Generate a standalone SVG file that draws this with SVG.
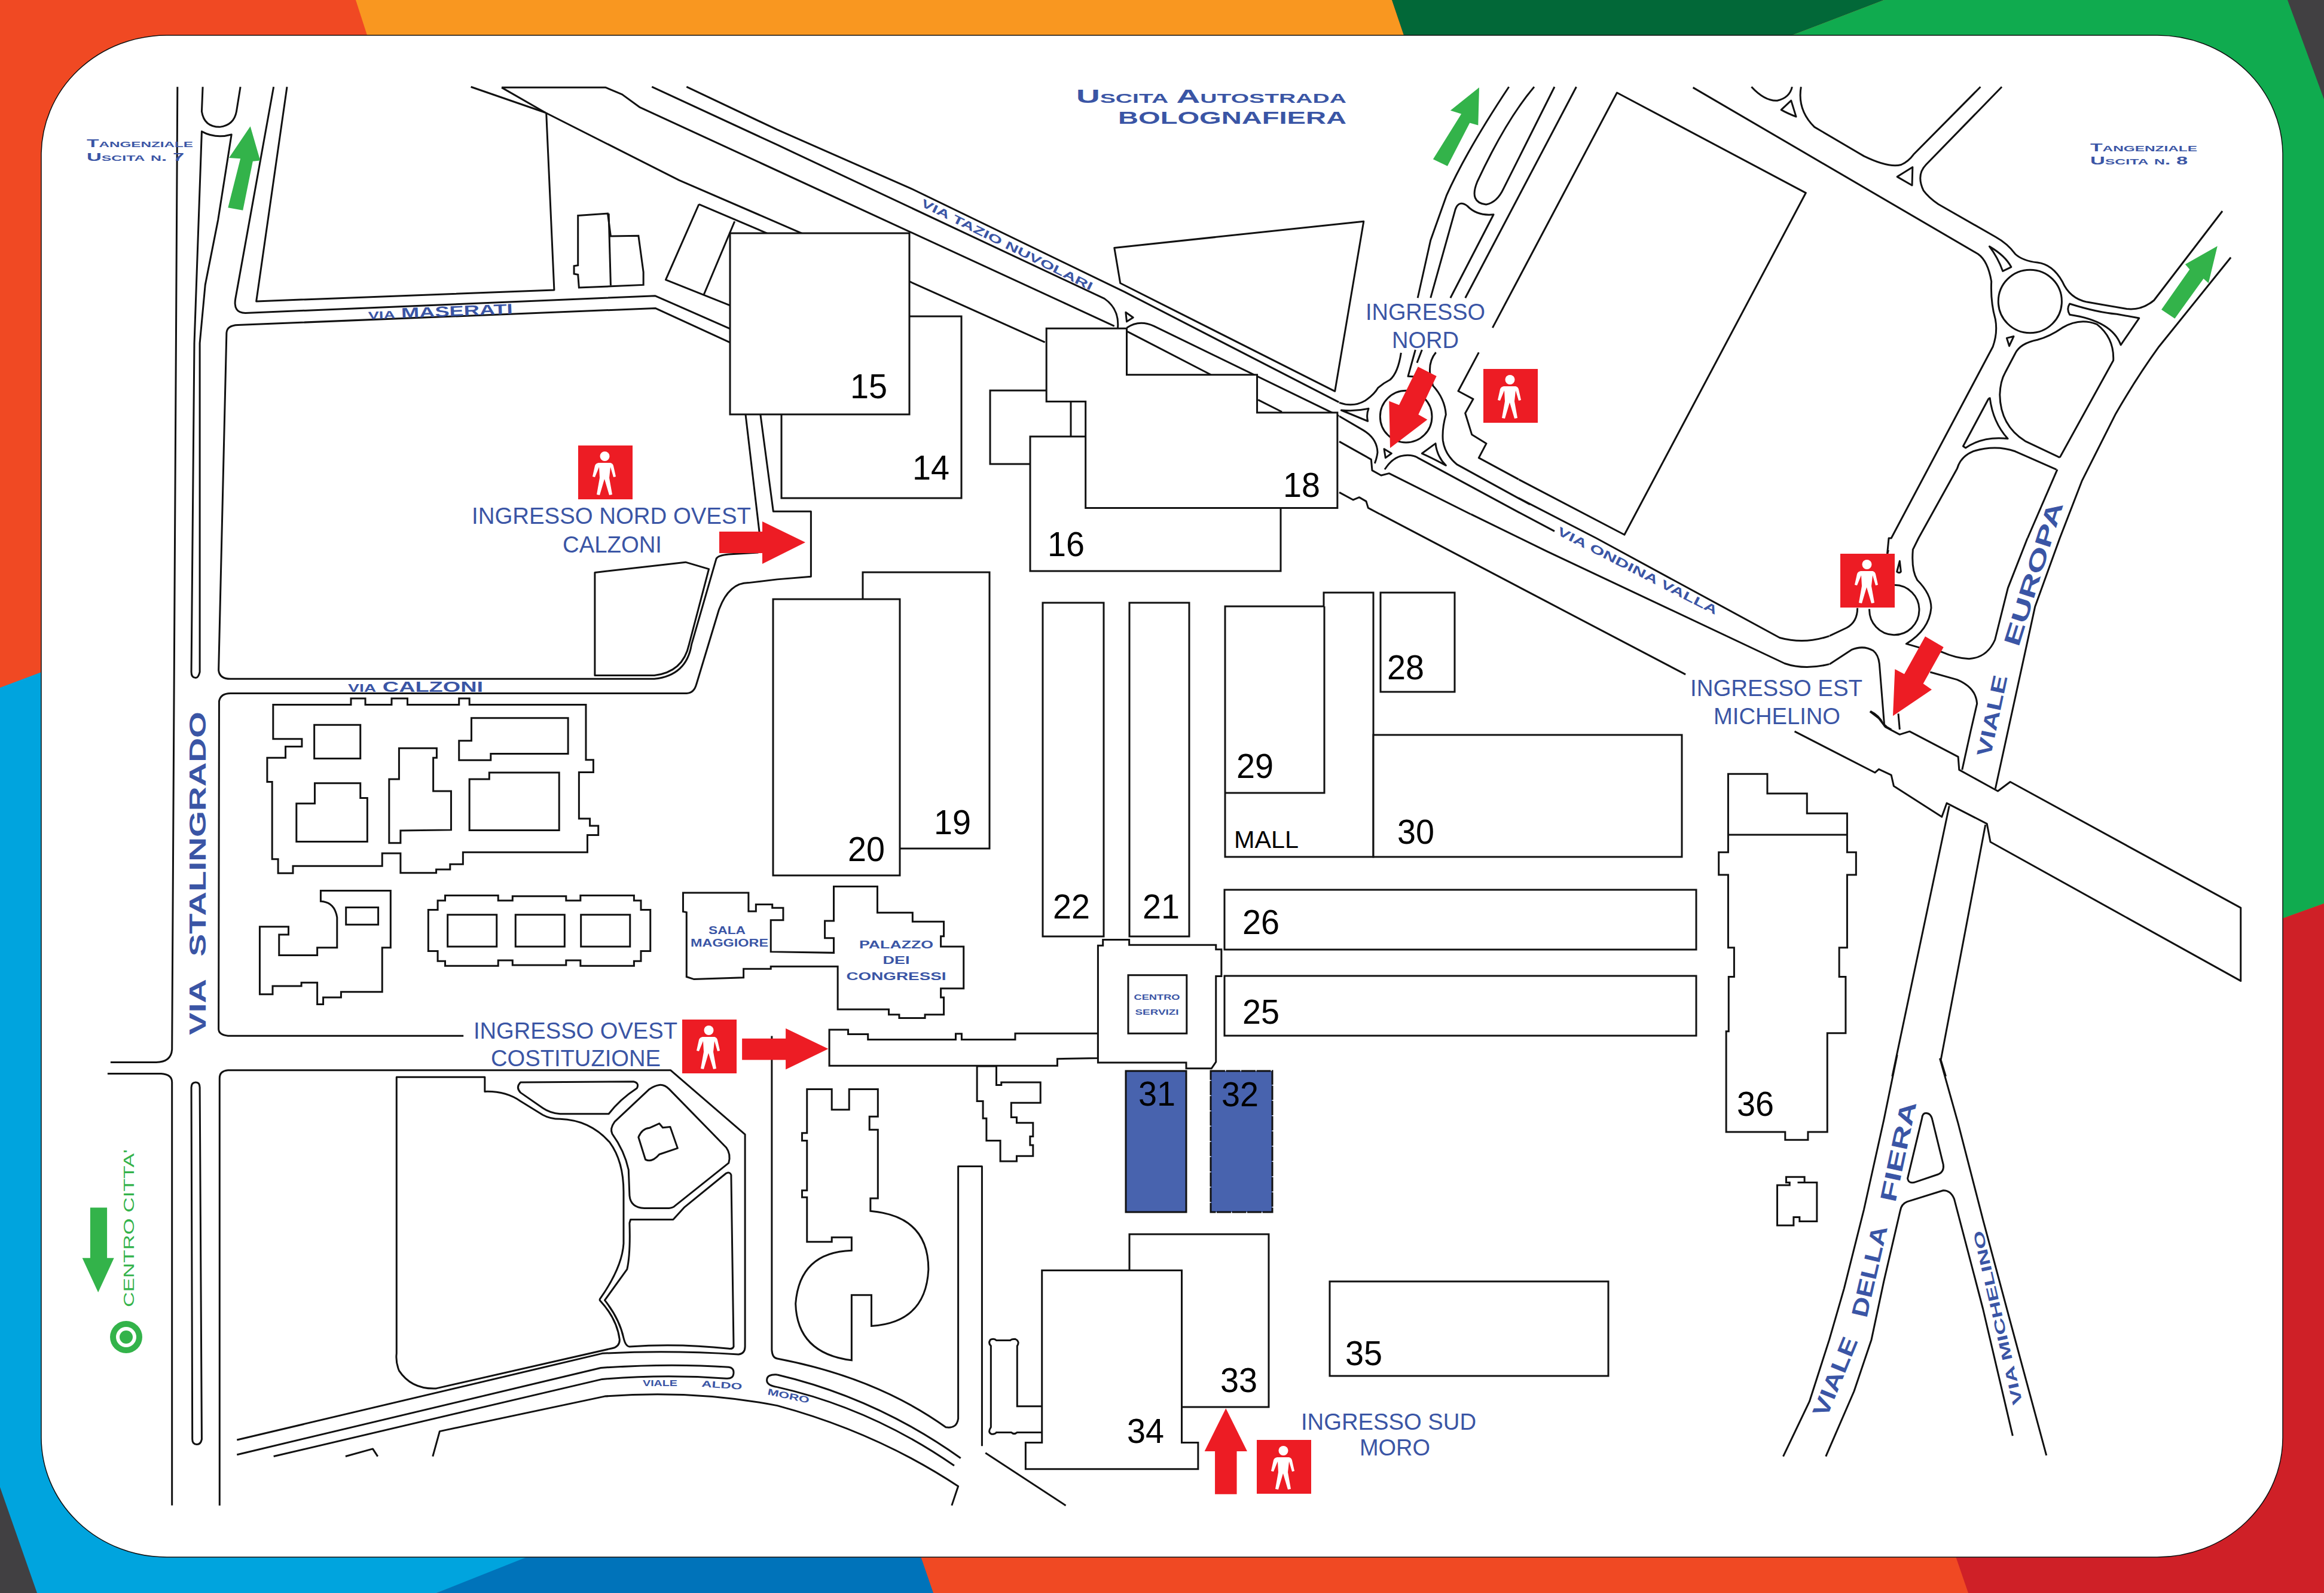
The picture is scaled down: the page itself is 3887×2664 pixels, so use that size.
<svg xmlns="http://www.w3.org/2000/svg" width="3887" height="2664" viewBox="0 0 3887 2664">
<style>
.r,.r *{fill:none;stroke:#111;stroke-width:3;stroke-linejoin:round;vector-effect:non-scaling-stroke}
.b,.b *{fill:#fff;stroke:#111;stroke-width:3;stroke-linejoin:miter;vector-effect:non-scaling-stroke}
.b .o{fill:none}
.red{fill:#ed1c24}
.grn{fill:#33b34a}
.lbl{font-family:"Liberation Sans",Arial,sans-serif;font-size:38px;fill:#3a55a5}
.st{font-family:"Liberation Sans",Arial,sans-serif;font-weight:700;fill:#3a55a5}
.num{font-family:"Liberation Sans",Arial,sans-serif;font-size:58px;fill:#000}
.sc{font-variant:small-caps}
</style>
<defs>
<g id="ped">
<rect width="91" height="90" fill="#ed1c24"/>
<circle cx="44.500" cy="18" r="8" fill="#fff"/>
<path fill="#fff" d="M34 29L54 29Q58 30 59 34L63 52L59 53L54 36L52 54L57 82L52 83L44 56L36 83L31 82L36 54L35 36L28 53L24 52L28 34Q29 30 34 29Z"/>
</g>
</defs>
<g id="background">
<rect width="3887" height="2664" fill="#f04923"/>
<polygon points="595,0 2328,0 2349,62 615,62" fill="#f99720"/>
<polygon points="2328,0 3151,0 2989,62 2349,62" fill="#026838"/>
<polygon points="3151,0 3887,0 3887,1511 3500,1650 3500,62 2989,62" fill="#10ab4f"/>
<polygon points="3826,0 3887,0 3887,166" fill="#414042"/>
<polygon points="0,1150 400,1000 400,2400 891,2604 730,2664 0,2664" fill="#00a4de"/>
<polygon points="891,2600 1539,2600 1561,2664 730,2664" fill="#0073ba"/>
<polygon points="3270,2600 3500,2400 3500,1650 3887,1511 3887,2664 3292,2664" fill="#cf2027"/>
<polygon points="0,2487 62,2664 0,2664" fill="#414042"/>
<rect x="69" y="59" width="3749" height="2545" rx="210" ry="200" fill="#fff" stroke="#111" stroke-width="1.500"/>
</g>
<g id="connectors">
<g class="r" transform="scale(.82908,.57398)">
<path d="M358 253L347 3058Q345 3095 315 3095L223 3095"/>
<path d="M217 3128L325 3128Q347 3130 347 3153L347 4386"/>
<path d="M409 253L407 325Q412 370 443 370Q472 365 477 325L485 253"/>
<path d="M407 383Q435 405 467 392L440 640L414 830L403 1000L403 1958Q400 1975 395 1975Q386 1975 386 1958L392 1000Z"/>
<path d="M552 253L475 870Q470 912 495 912L1322 862L1473 958"/>
<path d="M1102 328L1118 845L517 878L579 253"/>
<path d="M1473 998L1322 898L480 947Q458 948 457 970L441 1953Q443 1978 465 1978L1320 1978Q1385 1968 1395 1878L1445 1628Q1448 1618 1470 1615L1530 1610"/>
<path d="M935 3018L460 3018Q441 3015 441 2998L442 2043Q445 2020 465 2020L1385 2020Q1400 2020 1405 1993L1450 1778Q1470 1698 1510 1698L1568 1688L1636 1680L1636 1490L1560 1490L1534 1207"/>
<path d="M1504 1207L1532 1551"/>
<path d="M1200 1668L1383 1638L1430 1658L1390 1878Q1378 1958 1320 1968L1200 1968Z"/>
<path d="M950 253L1100 328"/>
<path d="M1012 255L1222 255L1255 275L1290 312L2248 950"/>
<path d="M1012 255L1100 328L1370 525L1618 680L2108 997"/>
<path d="M1385 253L1568 378L1836 548L2268 850L2701 1172"/>
<path d="M1315 253L1568 422L2228 870Q2258 900 2255 955"/>
<path d="M1410 595L1548 680"/>
<path d="M1410 595L1343 815L1473 890"/>
<path d="M1482 645L1420 858"/>
</g>
<g class="r" transform="translate(1300,0) scale(.82908,.57398)">
<path d="M680 722L1183 645L1125 1140L692 825Z"/>
<path d="M703 910L718 925L705 937Z"/>
<path d="M705 955Q730 930 760 950L1133 1212"/>
<path d="M705 965L875 1092"/>
<path d="M970 1165L1018 1200"/>
<path d="M1476 253Q1390 440 1350 570L1318 700L1292 868"/>
<path d="M1527 253Q1470 350 1412 530Q1395 590 1430 596Q1452 590 1465 550L1568 253"/>
<path d="M1318 868L1368 610Q1375 582 1392 600Q1412 630 1445 625L1358 868"/>
<path d="M1388 868L1612 253"/>
<path d="M1443 955L1694 270L2075 562L1709 1558L1496 1397"/>
</g>
<g class="r" transform="translate(2240,560) scale(.33333)">
<circle cx="335" cy="410" r="130"/>
<path d="M10 378Q80 385 147 370Q135 400 143 433Z"/>
<path d="M0 340Q70 365 130 330Q175 300 195 265Q225 240 255 225Q295 190 310 90"/>
<path d="M382 75L345 208L380 210"/>
<path d="M415 75L390 140"/>
<path d="M485 88Q450 130 455 190L470 255Q530 320 535 400Q515 470 520 530Q530 600 590 650L900 820L957 851"/>
<path d="M415 595L483 545Q490 610 535 655Q470 620 415 595Z"/>
<path d="M225 572L262 595L232 617Z"/>
<path d="M0 408L120 478Q190 520 192 590Q188 620 178 645"/>
<path d="M0 535L160 625L165 680L210 705L250 695L660 900"/>
<path d="M228 675Q270 610 325 605Q370 600 400 620L900 890L1080 985"/>
<path d="M700 88L597 282L672 322L632 393L665 500L738 545L700 617L900 725"/>
<path d="M0 790L70 828L100 815L135 835L145 868L205 900"/>
</g>
<g class="r" transform="translate(2587,0) scale(.82908,.57398)">
<path d="M295 255L870 740Q890 760 897 820Q895 880 905 930Q910 970 900 1010L695 1568L690 1568L687 1613"/>
<path d="M413 253Q440 295 465 293Q490 285 495 253"/>
<path d="M473 320L493 293L503 340Q485 330 473 320Z"/>
<path d="M513 253Q505 320 540 370L640 455Q690 490 715 480Q730 470 740 450L875 253"/>
<path d="M707 515L738 487L737 540Z"/>
<path d="M918 253L765 480Q745 510 760 555Q770 575 790 595L905 690Q930 710 945 740Q960 760 990 765Q1020 770 1040 820Q1055 870 1090 880L1170 900Q1200 905 1225 875L1363 615"/>
<path d="M893 718Q925 745 937 778L920 790Q910 750 893 718Z"/>
<ellipse cx="975" cy="878" rx="64" ry="92"/>
<path d="M1055 885Q1110 910 1150 915L1195 927L1158 1005Q1140 935 1055 917Q1048 900 1055 885Z"/>
<path d="M928 985L942 980L933 1008Z"/>
<path d="M1035 1333L965 1285Q915 1240 914 1150Q915 1110 925 1085L945 1030Q955 1000 990 990Q1015 980 1040 955Q1075 925 1110 945Q1145 985 1143 1050L1035 1333"/>
<path d="M894 1160Q900 1230 930 1278Q880 1270 845 1305L840 1300L890 1165Q892 1160 894 1160Z"/>
<path d="M1028 1368L945 1315Q905 1295 860 1315Q835 1330 828 1365L750 1568L738 1603"/>
<path d="M1380 750L1235 1010Q1190 1100 1148 1205L1080 1400L1035 1568L985 1768L905 2298"/>
<path d="M1030 1368L970 1568"/>
</g>
<g class="r" transform="translate(2587,900) scale(.82908,.57398)">
<path d="M-57 -117L100 0L470 290Q520 310 570 285"/>
<path d="M-153 -70L0 38L480 365Q520 385 570 367"/>
<path d="M-336 -70L0 185L280 397"/>
<path d="M500 563L662 683L670 673L695 690L700 722L797 812L807 772L888 832L895 885L1400 1290L1400 1077L935 710L910 737L832 675L830 637L732 563L712 572L683 550L670 525L652 505"/>
<path d="M812 780L697 1568"/>
<path d="M885 835L795 1520L805 1568"/>
<path d="M856 557L838 675"/>
</g>
<g class="r" transform="translate(3060,920) scale(.33333)">
<path d="M325 175A125 125 0 1 1 200 295"/>
<path d="M352 55L338 108Q350 118 358 108Z"/>
<path d="M418 0Q410 100 440 150Q510 220 510 290Q500 400 385 470L455 490L560 510Q640 545 700 545Q790 540 830 450L895 190L993 -60"/>
<path d="M0 430L85 390Q140 360 140 290"/>
<path d="M295 0L290 20"/>
<path d="M0 572L110 500Q170 475 220 505Q245 525 250 570L275 880L310 900"/>
<path d="M205 808Q250 830 268 870L285 885"/>
<path d="M505 612L640 650Q735 690 740 770L710 900"/>
<path d="M345 820L352 900"/>
</g>
<g class="r" transform="translate(0,1764) scale(.82908,.57398)">
<path d="M386 95Q386 80 395 80Q403 80 403 95L407 1120Q405 1135 397 1135Q388 1135 388 1120Z"/>
<path d="M443 1313L443 68Q443 47 460 45L1353 45L1503 232L1503 850Q1503 870 1490 873Q1350 860 1215 870L478 1122"/>
<path d="M478 1165L1212 912Q1350 898 1470 910Q1480 912 1480 925Q1480 945 1465 943Q1340 930 1215 945L552 1170"/>
<path d="M697 1170L752 1148L762 1170"/>
<path d="M873 1170L887 1097L1220 995Q1400 975 1568 1022Q1768 1100 1933 1257L1920 1313"/>
<path d="M800 65L978 65L978 107Q1020 105 1050 135L1095 175Q1110 187 1130 187Q1190 190 1230 255Q1258 310 1258 400L1258 550Q1255 620 1210 712L1210 715Q1245 770 1250 830Q1250 850 1235 855L880 972Q830 975 805 920Q798 895 800 870Z"/>
<path d="M1050 80L1278 78Q1290 82 1285 97Q1250 130 1228 172L1130 172Q1110 170 1095 155L1050 110Q1040 95 1050 80Z"/>
<path d="M1330 88Q1340 86 1350 100L1465 270Q1475 290 1470 315L1360 442Q1355 447 1345 447L1300 447Q1272 445 1270 410L1268 335Q1260 280 1235 230Q1230 215 1240 195L1310 100Q1320 90 1330 88Z"/>
<path d="M1272 480L1358 480L1380 445L1465 345Q1473 340 1475 350L1480 850Q1478 858 1470 856Q1370 840 1270 850Q1262 850 1258 825Q1250 770 1220 715L1265 625Q1272 580 1270 490Z"/>
<path d="M1310 213L1330 200L1337 212L1352 210L1367 272L1330 290Q1315 315 1302 305L1288 240Q1295 215 1310 213Z"/>
<path d="M1557 -55L1557 860Q1558 883 1568 885Q1768 940 1908 1085Q1930 1090 1933 1060L1933 325L1981 325L1981 1140"/>
<path d="M1568 932Q1547 930 1547 948Q1547 963 1568 968"/>
<path d="M1568 932Q1768 1000 1938 1175"/>
<path d="M1568 968Q1758 1030 1925 1197"/>
<path d="M1988 1160L2150 1313"/>
</g>
<g class="r" transform="translate(2587,1764) scale(.82908,.57398)">
<path d="M707 0L680 190L640 450L600 680L570 830L530 1010L477 1170"/>
<path d="M793 10L830 200L880 480L930 750L1008 1167"/>
<path d="M765 170Q775 170 778 190L800 320Q802 340 790 348L745 370Q730 378 728 360L757 185Q758 170 765 170Z"/>
<path d="M940 1110L880 740L822 420Q815 395 800 395L727 428Q715 435 713 455L680 660L655 830L620 980L563 1170"/>
</g>
</g>
<g id="buildings">
<g class="b" transform="scale(.82908,.57398)">
<g id="annex"><path d="M1166 628L1226 622L1232 688L1288 687L1298 793L1298 830L1168 838L1166 800L1158 798L1158 775L1166 773Z"/><path class="o" d="M1228 622L1232 832"/></g>
</g>
<g id="b14" class="b"><rect x="1307" y="529" width="301" height="304"/></g>
<g id="b15" class="b"><rect x="1221" y="390" width="300" height="303"/></g>
<g id="annex2" class="b"><rect x="1656" y="653" width="135" height="123"/></g>
<g id="b16" class="b"><rect x="1723" y="730" width="419" height="225"/></g>
<g id="b18" class="b" transform="translate(1300,0) scale(.82908,.57398)"><path d="M543 957L705 957L705 1092L968 1092L968 1202L1130 1202L1130 1480L622 1480L622 1170L543 1170Z"/></g>
<g id="b19" class="b"><rect x="1443" y="957" width="212" height="462"/></g>
<g id="b20" class="b"><rect x="1293" y="1002" width="212" height="462"/></g>
<g id="b22" class="b"><rect x="1744" y="1008" width="102" height="558"/></g>
<g id="b21" class="b"><rect x="1889" y="1008" width="100" height="558"/></g>
<g id="mall" class="b"><path d="M2049 1014L2214 1014L2214 991L2297 991L2297 1433L2049 1433Z"/><path class="o" d="M2215 1014L2215 1326L2049 1326"/></g>
<g id="b28" class="b"><rect x="2309" y="991" width="124" height="166"/></g>
<g id="b30" class="b"><rect x="2297" y="1229" width="516" height="204"/></g>
<g id="b26" class="b"><rect x="2048" y="1488" width="789" height="100"/></g>
<g id="b25" class="b"><rect x="2048" y="1632" width="789" height="100"/></g>
<g id="wing" class="b" transform="translate(1300,900) scale(.82908,.57398)"><path d="M105 1432L143 1432L143 1445L183 1445L183 1461L360 1461L360 1444L372 1444L372 1461L480 1461L480 1443L647 1443L647 1515L565 1517L565 1537L105 1537Z"/></g>
<g id="centro-servizi" class="b" transform="translate(1300,900) scale(.82908,.57398)"><path d="M647 1187L657 1187L657 1170L710 1170L710 1185L885 1185L885 1198L896 1198L896 1276L885 1276L885 1526L876 1545L825 1545L825 1528L647 1528Z"/><rect x="708" y="1273" width="118" height="170"/></g>
<g id="block-a" class="b" transform="translate(0,900) scale(.82908,.57398)">
<path d="M551 485L708 485L708 467L737 467L737 485L790 485L790 467L822 467L822 485L926 485L926 467L947 467L947 485L1182 485L1182 646L1197 646L1197 682L1168 682L1168 817L1190 817L1190 838L1207 838L1207 865L1185 865L1185 915L934 915L934 950L908 950L908 965L880 965L880 975L808 975L808 918L771 918L771 955L591 955L591 976L561 976L561 935L549 935L549 710L539 710L539 640L576 640L576 607L609 607L609 585L551 585Z"/>
<rect x="634" y="544" width="93" height="98"/>
<path d="M635 714L727 714L727 757L741 757L741 884L598 884L598 773L635 773Z"/>
<path d="M805 612L881 612L881 640L874 640L874 737L910 737L910 850L808 852L808 888L785 888L785 702L805 702Z"/>
<path d="M951 524L1146 524L1146 628L990 628L990 647L926 647L926 590L951 590Z"/>
<path d="M947 702L987 702L987 683L1128 683L1128 851L947 851Z"/>
</g>
<g id="block-b" class="b" transform="translate(0,900) scale(.82908,.57398)">
<path d="M647 1027L788 1027L788 1193L771 1193L771 1322L688 1322L688 1338L652 1338L652 1358L640 1358L640 1295L608 1295L608 1305L550 1305L550 1329L524 1329L524 1132L582 1132L582 1155L563 1155L563 1215L640 1215L640 1193L680 1193L680 1105Q675 1060 647 1058Z"/>
<rect x="698" y="1076" width="65" height="50"/>
</g>
<g id="block-c" class="b" transform="translate(0,900) scale(.82908,.57398)">
<path d="M898 1041L1005 1041L1005 1056L1034 1056L1034 1043L1142 1043L1142 1056L1171 1056L1171 1041L1279 1041L1279 1056L1293 1056L1293 1083L1312 1083L1312 1203L1293 1203L1293 1232L1279 1232L1279 1246L1171 1246L1171 1230L1142 1230L1142 1244L1034 1244L1034 1230L1005 1230L1005 1246L898 1246L898 1232L883 1232L883 1203L864 1203L864 1083L883 1083L883 1056L898 1056Z"/>
<rect x="903" y="1097" width="99" height="93"/>
<rect x="1040" y="1097" width="99" height="93"/>
<rect x="1172" y="1097" width="99" height="93"/>
</g>
<g id="palazzo" class="b" transform="translate(0,900) scale(.82908,.57398)">
<path d="M1378 1033L1510 1033L1510 1087L1525 1087L1525 1067L1558 1067L1558 1077L1580 1077L1580 1113L1555 1113L1555 1205L1682 1208L1682 1165L1664 1165L1664 1115L1682 1115L1682 1015L1770 1015L1770 1091L1841 1091L1841 1117L1904 1117L1904 1160L1898 1160L1898 1190L1944 1190L1944 1312L1898 1312L1898 1338L1904 1338L1904 1388L1866 1388L1866 1398L1814 1398L1814 1388L1793 1388L1793 1373L1690 1373L1690 1248L1555 1248L1555 1255L1500 1255L1500 1280L1400 1285L1385 1278L1385 1090L1378 1088Z"/>
</g>
<g id="b-south-a" class="b" transform="translate(1300,1764) scale(.82908,.57398)">
<path d="M60 100L110 100L110 160L145 160L145 100L203 100L203 180L186 180L186 218L203 218L203 418L188 418L188 455Q305 470 305 625Q300 780 190 790L190 700L150 700L150 890Q40 870 37 725Q45 575 150 570L150 532L110 532L110 545L60 545L60 415L50 415L50 395L60 395L60 250L50 250L50 228L60 228Z"/>
</g>
<g id="b-south-b" class="b" transform="translate(1300,1764) scale(.82908,.57398)">
<path d="M403 33L403 135L415 135L415 185L422 185L422 250L450 250L450 310L483 310L483 295L516 295L516 263L510 263L510 238L516 238L516 198L483 198L483 182L472 182L472 140L531 140L531 80L452 80L452 88L442 88L442 33Z"/>
<path class="o" d="M534 1024L484 1024L484 848Q490 835 480 828Q472 828 470 832L442 832Q438 825 430 830Q425 840 431 848L431 1085Q424 1100 432 1105Q440 1105 442 1100L472 1100Q478 1108 484 1100L534 1100"/>
</g>
<g id="b31" class="b"><rect x="1883" y="1791" width="101" height="236" style="fill:#4863ae"/></g>
<g id="b32" class="b"><rect x="2025" y="1791" width="103" height="236" style="fill:#4863ae;stroke-dasharray:24 1.500"/></g>
<g id="b33" class="b"><rect x="1889" y="2064" width="233" height="289"/></g>
<g id="b34" class="b" transform="translate(1300,1764) scale(.82908,.57398)"><path d="M534 628L816 628L816 1130L849 1130L849 1207L501 1207L501 1130L534 1130Z"/></g>
<g id="b35" class="b"><rect x="2224" y="2143" width="466" height="158"/></g>
<g id="b36" class="b" transform="translate(2587,900) scale(.82908,.57398)">
<path d="M366 687L445 687L445 744L525 744L525 802L606 802L606 915L624 915L624 981L606 981L606 1193L590 1193L590 1278L603 1278L603 1442L566 1442L566 1730L527 1730L527 1753L481 1753L481 1730L362 1730L362 1437L367 1437L367 1278L378 1278L378 1193L366 1193L366 981L347 981L347 915L366 915Z"/>
<path class="o" d="M366 864L606 864"/>
</g>
<g id="b-small" class="b" transform="translate(2587,1764) scale(.82908,.57398)"><path d="M465 380L490 380L490 372L483 372L483 356L520 356L520 372L506 372L545 372L545 485L510 485L510 473L498 473L498 497L465 497Z"/></g>
</g>
<g id="arrows">
<polygon class="grn" transform="scale(.82908,.57398)" points="505,368 525,468 510,470 490,613 460,605 485,462 462,460"/>
<polygon class="grn" transform="translate(1300,0) scale(.82908,.57398)" points="1416,255 1414,365 1397,358 1352,484 1323,464 1380,332 1358,322"/>
<polygon class="grn" transform="translate(2587,0) scale(.82908,.57398)" points="1353,717 1335,825 1325,812 1267,928 1240,902 1297,785 1288,770"/>
<polygon class="grn" transform="translate(0,1764) scale(.82908,.57398)" points="182,445 216,445 216,592 230,592 198,692 166,592 182,592"/>
<polygon class="red" points="1203,889 1275,889 1275,872 1347,907 1275,943 1275,925 1203,925"/>
<polygon class="red" transform="translate(2240,560) scale(.33333)" points="255,568 250,332 300,352 395,160 488,207 397,400 442,425"/>
<polygon class="red" transform="translate(3060,920) scale(.33333)" points="318,832 328,597 375,622 480,433 572,487 470,670 513,700"/>
<polygon class="red" transform="translate(1300,900) scale(.82908,.57398)" points="-71,1458 17,1458 17,1428 103,1488 17,1548 17,1520 -71,1520"/>
<polygon class="red" transform="translate(1300,1764) scale(.82908,.57398)" points="905,1030 948,1155 927,1155 927,1280 883,1280 883,1155 862,1155"/>
</g>
<g id="entrances">
<use href="#ped" x="967" y="745"/>
<use href="#ped" x="2481" y="617"/>
<use href="#ped" x="3078" y="926"/>
<use href="#ped" x="1141" y="1705"/>
<use href="#ped" x="2102" y="2408"/>
</g>
<g id="target">
<circle cx="211" cy="2236" r="27" class="grn"/>
<circle cx="211" cy="2236" r="17" fill="#fff"/>
<circle cx="211" cy="2236" r="11" class="grn"/>
</g>
<g id="labels">
<text class="lbl" x="789" y="876" textLength="467" lengthAdjust="spacingAndGlyphs">INGRESSO NORD OVEST</text>
<text class="lbl" x="941" y="924" textLength="166" lengthAdjust="spacingAndGlyphs">CALZONI</text>
<text class="lbl" x="2284" y="535" textLength="200" lengthAdjust="spacingAndGlyphs">INGRESSO</text>
<text class="lbl" x="2328" y="582" textLength="112" lengthAdjust="spacingAndGlyphs">NORD</text>
<text class="lbl" x="2827" y="1164" textLength="288" lengthAdjust="spacingAndGlyphs">INGRESSO EST</text>
<text class="lbl" x="2866" y="1211" textLength="212" lengthAdjust="spacingAndGlyphs">MICHELINO</text>
<text class="lbl" x="792" y="1737" textLength="341" lengthAdjust="spacingAndGlyphs">INGRESSO OVEST</text>
<text class="lbl" x="821" y="1783" textLength="284" lengthAdjust="spacingAndGlyphs">COSTITUZIONE</text>
<text class="lbl" x="2176" y="2391" textLength="293" lengthAdjust="spacingAndGlyphs">INGRESSO SUD</text>
<text class="lbl" x="2274" y="2434" textLength="118" lengthAdjust="spacingAndGlyphs">MORO</text>
<text class="st sc" x="1800" y="172" font-size="31" textLength="452" lengthAdjust="spacingAndGlyphs">Uscita Autostrada</text>
<text class="st" x="1870" y="207" font-size="30" textLength="382" lengthAdjust="spacingAndGlyphs">BOLOGNAFIERA</text>
<text class="st sc" x="145" y="246" font-size="18" textLength="178" lengthAdjust="spacingAndGlyphs">Tangenziale</text>
<text class="st sc" x="145" y="269" font-size="18" textLength="163" lengthAdjust="spacingAndGlyphs">Uscita n. 7</text>
<text class="st sc" x="3496" y="253" font-size="18" textLength="179" lengthAdjust="spacingAndGlyphs">Tangenziale</text>
<text class="st sc" x="3496" y="275" font-size="18" textLength="163" lengthAdjust="spacingAndGlyphs">Uscita n. 8</text>
<text class="st" transform="translate(616,534) rotate(-2.200)" font-size="24" textLength="242" lengthAdjust="spacingAndGlyphs"><tspan font-size="18">VIA</tspan> MASERATI</text>
<text class="st" x="582" y="1157" font-size="24" textLength="226" lengthAdjust="spacingAndGlyphs"><tspan font-size="18">VIA</tspan> CALZONI</text>
<text class="st" transform="translate(1539,344) rotate(26.500)" font-size="19" textLength="318" lengthAdjust="spacingAndGlyphs">VIA TAZIO NUVOLARI</text>
<text class="st" transform="translate(2603,893) rotate(27)" font-size="20" textLength="298" lengthAdjust="spacingAndGlyphs">VIA ONDINA VALLA</text>
<text class="st" transform="translate(344,1731) rotate(-90)" font-size="38" style="word-spacing:16px" textLength="541" lengthAdjust="spacingAndGlyphs">VIA STALINGRADO</text>
<text class="st" transform="translate(3329,1267) rotate(-78)" font-size="34" textLength="138" lengthAdjust="spacingAndGlyphs">VIALE</text>
<text class="st" transform="translate(3376,1083) rotate(-72.600)" font-size="38" textLength="251" lengthAdjust="spacingAndGlyphs">EUROPA</text>
<text class="st" transform="translate(3055,2372) rotate(-67.800)" font-size="38" textLength="140" lengthAdjust="spacingAndGlyphs">VIALE</text>
<text class="st" transform="translate(3122,2205) rotate(-77)" font-size="38" textLength="156" lengthAdjust="spacingAndGlyphs">DELLA</text>
<text class="st" transform="translate(3170,2012) rotate(-78)" font-size="38" textLength="171" lengthAdjust="spacingAndGlyphs">FIERA</text>
<text class="st" transform="translate(3383,2347) rotate(-103)" font-size="24" textLength="298" lengthAdjust="spacingAndGlyphs">VIA MICHELINO</text>
<text class="st" x="1075" y="2318" font-size="15" textLength="58" lengthAdjust="spacingAndGlyphs">VIALE</text>
<text class="st" transform="translate(1173,2319) rotate(4)" font-size="15" textLength="68" lengthAdjust="spacingAndGlyphs">ALDO</text>
<text class="st" transform="translate(1283,2332) rotate(12)" font-size="15" textLength="71" lengthAdjust="spacingAndGlyphs">MORO</text>
<text class="st" x="1216" y="1562" text-anchor="middle" font-size="18" textLength="62" lengthAdjust="spacingAndGlyphs">SALA</text>
<text class="st" x="1220" y="1583" text-anchor="middle" font-size="18" textLength="130" lengthAdjust="spacingAndGlyphs">MAGGIORE</text>
<text class="st" x="1499" y="1586" text-anchor="middle" font-size="19" textLength="124" lengthAdjust="spacingAndGlyphs">PALAZZO</text>
<text class="st" x="1499" y="1612" text-anchor="middle" font-size="19" textLength="45" lengthAdjust="spacingAndGlyphs">DEI</text>
<text class="st" x="1499" y="1639" text-anchor="middle" font-size="19" textLength="167" lengthAdjust="spacingAndGlyphs">CONGRESSI</text>
<text class="st" x="1935" y="1672" text-anchor="middle" font-size="13" textLength="77" lengthAdjust="spacingAndGlyphs">CENTRO</text>
<text class="st" x="1935" y="1697" text-anchor="middle" font-size="13" textLength="73" lengthAdjust="spacingAndGlyphs">SERVIZI</text>
<text transform="translate(224,2186) rotate(-90)" font-family="'Liberation Sans',Arial,sans-serif" font-size="24" textLength="264" lengthAdjust="spacingAndGlyphs" fill="#33b34a">CENTRO CITTA'</text>
<text class="num" x="1422" y="666" textLength="62" lengthAdjust="spacingAndGlyphs">15</text>
<text class="num" x="1526" y="802" textLength="62" lengthAdjust="spacingAndGlyphs">14</text>
<text class="num" x="2146" y="831" textLength="62" lengthAdjust="spacingAndGlyphs">18</text>
<text class="num" x="1752" y="930" textLength="62" lengthAdjust="spacingAndGlyphs">16</text>
<text class="num" x="1418" y="1440" textLength="62" lengthAdjust="spacingAndGlyphs">20</text>
<text class="num" x="1562" y="1395" textLength="62" lengthAdjust="spacingAndGlyphs">19</text>
<text class="num" x="1761" y="1536" textLength="62" lengthAdjust="spacingAndGlyphs">22</text>
<text class="num" x="1911" y="1536" textLength="62" lengthAdjust="spacingAndGlyphs">21</text>
<text class="num" x="2068" y="1301" textLength="62" lengthAdjust="spacingAndGlyphs">29</text>
<text class="num" x="2320" y="1136" textLength="62" lengthAdjust="spacingAndGlyphs">28</text>
<text class="num" x="2337" y="1411" textLength="62" lengthAdjust="spacingAndGlyphs">30</text>
<text class="num" x="2064" y="1418" style="font-size:41px" textLength="108" lengthAdjust="spacingAndGlyphs">MALL</text>
<text class="num" x="2078" y="1562" textLength="62" lengthAdjust="spacingAndGlyphs">26</text>
<text class="num" x="2078" y="1712" textLength="62" lengthAdjust="spacingAndGlyphs">25</text>
<text class="num" x="2905" y="1866" textLength="62" lengthAdjust="spacingAndGlyphs">36</text>
<text class="num" x="1904" y="1849" textLength="62" lengthAdjust="spacingAndGlyphs">31</text>
<text class="num" x="2043" y="1850" textLength="62" lengthAdjust="spacingAndGlyphs">32</text>
<text class="num" x="2041" y="2328" textLength="62" lengthAdjust="spacingAndGlyphs">33</text>
<text class="num" x="1885" y="2413" textLength="62" lengthAdjust="spacingAndGlyphs">34</text>
<text class="num" x="2250" y="2283" textLength="62" lengthAdjust="spacingAndGlyphs">35</text>
</g>
</svg>
